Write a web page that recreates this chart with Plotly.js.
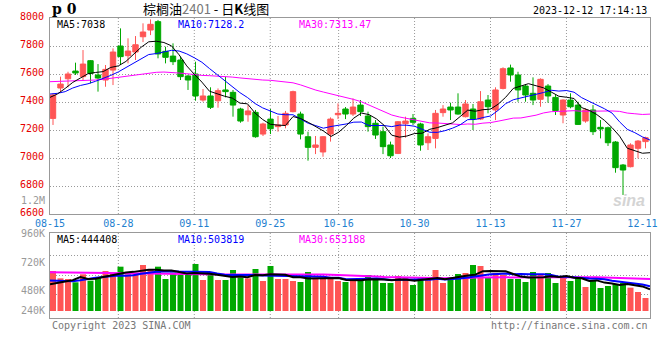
<!DOCTYPE html>
<html><head><meta charset="utf-8">
<script src="https://cdn.plot.ly/plotly-3.0.1.min.js"></script>
<style>html,body{margin:0;padding:0;background:#fff}#chart{width:660px;height:360px}</style>
</head><body><div id="chart"></div>
<script>
// ---------------- data ----------------
const DATES = ['08-15','08-16','08-17','08-18','08-21','08-22','08-23','08-24','08-25','08-28',
 '08-29','08-30','08-31','09-01','09-04','09-05','09-06','09-07','09-08','09-11',
 '09-12','09-13','09-14','09-15','09-18','09-19','09-20','09-21','09-22','09-25',
 '09-26','09-27','09-28','10-09','10-10','10-11','10-12','10-13','10-16','10-17',
 '10-18','10-19','10-20','10-23','10-24','10-25','10-26','10-27','10-30','10-31',
 '11-01','11-02','11-03','11-06','11-07','11-08','11-09','11-10','11-13','11-14',
 '11-15','11-16','11-17','11-20','11-21','11-22','11-23','11-24','11-27','11-28',
 '11-29','11-30','12-01','12-04','12-05','12-06','12-07','12-08','12-11','12-12'];
const OPEN = [7283,7500,7566,7621,7581,7695,7593,7557,7628,7800,
 7731,7757,7866,7914,7974,7762,7728,7700,7586,7600,
 7414,7443,7409,7486,7469,7350,7309,7326,7171,7278,
 7224,7236,7331,7314,7152,7076,7043,7171,7309,7350,
 7314,7378,7300,7248,7188,7093,7033,7245,7283,7243,
 7109,7140,7324,7364,7364,7295,7350,7278,7414,7343,
 7497,7643,7593,7514,7462,7419,7514,7433,7307,7414,
 7378,7264,7343,7219,7216,7114,6950,6938,7069,7117];
const HIGH = [7462,7581,7616,7681,7771,7700,7671,7664,7783,7926,
 7855,7871,7962,7990,7986,7795,7819,7724,7593,7688,
 7493,7505,7497,7581,7486,7359,7378,7343,7252,7350,
 7300,7336,7481,7331,7188,7157,7157,7290,7390,7364,
 7426,7414,7331,7271,7224,7117,7264,7295,7314,7252,
 7176,7343,7378,7395,7462,7414,7386,7478,7450,7505,
 7648,7667,7616,7528,7576,7569,7528,7450,7419,7462,
 7402,7355,7378,7271,7224,7121,6957,7105,7128,7152];
const LOW = [7236,7474,7505,7593,7552,7533,7474,7509,7521,7664,
 7676,7700,7828,7878,7712,7676,7664,7557,7486,7409,
 7402,7350,7359,7433,7295,7252,7259,7145,7157,7171,
 7188,7212,7326,7133,6981,7028,7009,7117,7278,7278,
 7300,7300,7188,7136,7028,7000,7028,7145,7236,7052,
 7057,7069,7295,7271,7309,7290,7200,7271,7319,7271,
 7490,7545,7402,7402,7378,7366,7395,7307,7248,7355,
 7236,7252,7164,7140,7086,6895,6736,6933,6997,7069];
const CLOSE = [7450,7528,7600,7607,7671,7605,7571,7633,7757,7724,
 7764,7809,7900,7955,7743,7719,7688,7581,7557,7443,
 7443,7362,7481,7474,7378,7264,7336,7152,7243,7209,
 7236,7319,7474,7171,7076,7093,7152,7278,7319,7314,
 7364,7331,7224,7164,7081,7016,7259,7264,7255,7093,
 7152,7319,7350,7343,7314,7386,7278,7402,7366,7486,
 7638,7593,7486,7450,7414,7562,7443,7338,7414,7366,
 7240,7343,7188,7207,7109,6931,6914,7093,7121,7145];
const MA5 = [7433,7458,7497,7540,7571,7602,7611,7617,7647,7658,
 7690,7737,7791,7830,7834,7825,7801,7737,7658,7598,
 7542,7477,7457,7441,7428,7392,7387,7321,7275,7241,
 7235,7232,7296,7282,7255,7227,7193,7154,7184,7231,
 7285,7321,7310,7279,7233,7163,7149,7157,7175,7177,
 7205,7217,7234,7251,7296,7342,7334,7345,7349,7384,
 7434,7497,7514,7531,7516,7501,7471,7441,7434,7425,
 7360,7340,7310,7269,7217,7156,7070,7051,7034,7038];
const MA10 = [7457,7462,7474,7500,7518,7530,7548,7568,7590,7615,
 7646,7674,7704,7739,7746,7758,7769,7764,7744,7716,
 7684,7639,7597,7549,7513,7467,7432,7389,7358,7334,
 7314,7309,7309,7278,7248,7231,7213,7225,7233,7243,
 7256,7257,7232,7232,7232,7224,7235,7234,7227,7205,
 7184,7183,7195,7213,7237,7274,7275,7289,7300,7340,
 7388,7416,7429,7440,7450,7468,7484,7478,7482,7470,
 7431,7406,7376,7352,7321,7258,7205,7181,7151,7128.2];
const MA30 = [7545,7547,7547,7550,7550,7555,7557,7562,7569,7574,
 7581,7588,7597,7607,7612,7614,7612,7607,7602,7595,
 7590,7588,7586,7583,7578,7572,7566,7560,7557,7555,
 7548,7541,7537,7522,7502,7485,7471,7459,7445,7431,
 7418,7402,7379,7353,7331,7307,7293,7283,7273,7261,
 7251,7250,7245,7241,7239,7243,7241,7249,7253,7263,
 7276,7285,7286,7295,7306,7322,7331,7333,7337,7338,
 7334,7335,7333,7335,7336,7333,7321,7316,7311,7313.47];
const VOLUME = [816000,666000,653000,585000,748000,619000,694000,816000,755000,904000,
 748000,768000,938000,857000,904000,653000,782000,748000,734000,959000,
 632000,734000,632000,632000,836000,680000,666000,857000,612000,918000,
 653000,653000,612000,592000,796000,653000,653000,653000,612000,592000,
 653000,632000,734000,632000,571000,571000,714000,694000,530000,673000,
 632000,836000,571000,673000,755000,775000,938000,918000,694000,775000,
 734000,653000,653000,592000,796000,734000,775000,571000,694000,612000,
 694000,490000,632000,469000,510000,551000,578000,476000,388000,265000];
const VMA5 = [545000,580000,600000,630000,694000,654000,660000,692000,726000,758000,
 783000,798000,823000,843000,843000,824000,827000,789000,764000,775000,
 771000,761000,738000,718000,693000,703000,689000,734000,730000,747000,
 741000,739000,690000,686000,661000,661000,661000,669000,673000,633000,
 633000,628000,645000,649000,644000,628000,644000,636000,616000,636000,
 649000,673000,648000,677000,693000,722000,742000,812000,816000,820000,
 812000,755000,702000,681000,686000,686000,710000,694000,714000,677000,
 669000,612000,624000,579000,559000,530000,548000,517000,501000,444408];
const VMA10 = [620000,615000,608000,608000,628000,655000,678000,692000,712000,726000,
 719000,729000,758000,785000,800000,804000,813000,806000,804000,809000,
 798000,794000,764000,741000,734000,737000,725000,736000,724000,720000,
 722000,714000,712000,708000,704000,701000,700000,680000,680000,647000,
 647000,645000,657000,661000,639000,630000,636000,641000,632000,640000,
 638000,659000,642000,647000,665000,685000,708000,730000,747000,757000,
 767000,749000,757000,749000,753000,749000,732000,698000,698000,681000,
 677000,661000,659000,647000,618000,600000,580000,571000,540000,503819];
const VMA30 = [790000,788000,785000,778000,775000,772000,770000,768000,766000,763000,
 760000,756000,753000,750000,747000,745000,744000,743000,742000,742000,
 742000,742000,742000,742000,743000,744000,745000,747000,749000,752000,
 746000,746000,744000,745000,746000,747000,746000,740000,736000,725000,
 722000,718000,711000,703000,692000,689000,687000,685000,679000,669000,
 669000,672000,670000,672000,669000,672000,681000,683000,686000,681000,
 684000,684000,685000,685000,685000,688000,692000,689000,692000,693000,
 694000,689000,686000,681000,679000,678000,673000,666000,661000,653188];
const TICK_LABELS = ['08-15','08-28','09-11','09-25','10-16','10-30','11-13','11-27','12-11'];
const GRID_LABELS = ['08-28','09-11','09-25','10-16','10-30','11-13','11-27'];
const PRICE_TICKS = [6600,6800,7000,7200,7400,7600,7800,8000];
const VOL_LABELS = ['1.2M','960K','720K','480K','240K'];
const PRICE_HEADER = ['MA5:7038','MA10:7128.2','MA30:7313.47'];
const VOL_HEADER = ['MA5:444408','MA10:503819','MA30:653188'];

// ---------------- drawing ----------------
const N = DATES.length;
const X = DATES.map((d, i) => i);
const lineX = i => i * N / (N - 1) - 0.4;   // sina places lines/labels on a slightly wider step
const XL = DATES.map((d, i) => lineX(i));
const RED = '#ff5555', GREEN = '#00a800';
const volColors = CLOSE.map((c, i) => c >= OPEN[i] ? RED : GREEN);

const traces = [
  {type:'candlestick', x:X, open:OPEN, high:HIGH, low:LOW, close:CLOSE, xaxis:'x', yaxis:'y',
   increasing:{line:{color:RED, width:1}, fillcolor:RED},
   decreasing:{line:{color:GREEN, width:1}, fillcolor:GREEN},
   whiskerwidth:0, hoverinfo:'skip'},
  {type:'scatter', mode:'lines', x:XL, y:MA30, line:{color:'#ff00ff', width:1}, xaxis:'x', yaxis:'y', hoverinfo:'skip'},
  {type:'scatter', mode:'lines', x:XL, y:MA10, line:{color:'#0000ff', width:1}, xaxis:'x', yaxis:'y', hoverinfo:'skip'},
  {type:'scatter', mode:'lines', x:XL, y:MA5, line:{color:'#000000', width:1}, xaxis:'x', yaxis:'y', hoverinfo:'skip'},
  {type:'bar', x:X, y:VOLUME, width:0.8, marker:{color:volColors, line:{width:0}}, xaxis:'x2', yaxis:'y2', hoverinfo:'skip'},
  {type:'scatter', mode:'lines', x:XL, y:VMA30, line:{color:'#ff00ff', width:2}, xaxis:'x2', yaxis:'y2', hoverinfo:'skip'},
  {type:'scatter', mode:'lines', x:XL, y:VMA10, line:{color:'#0000ff', width:2}, xaxis:'x2', yaxis:'y2', hoverinfo:'skip'},
  {type:'scatter', mode:'lines', x:XL, y:VMA5, line:{color:'#000000', width:2}, xaxis:'x2', yaxis:'y2', hoverinfo:'skip'}
];

// plot area in pixels: x 50..650, y 18..318
const PX = px => (px - 50) / 600;
const PY = py => (318 - py) / 300;
const MONO = 'DejaVu Sans Mono';
const GRIDDASH = '1px,2px';

const shapes = [];
GRID_LABELS.forEach(l => {
  const xv = lineX(DATES.indexOf(l));
  shapes.push({type:'line', layer:'below', xref:'x', yref:'y domain', x0:xv, x1:xv, y0:0, y1:1,
               line:{color:'#999', width:1, dash:GRIDDASH}});
  shapes.push({type:'line', layer:'below', xref:'x2', yref:'y2 domain', x0:xv, x1:xv, y0:0, y1:1,
               line:{color:'#999', width:1, dash:GRIDDASH}});
});

const ann = [];
const txt = (text, px, py, color, anchor, size, family, extra) => ann.push(Object.assign({
  text, x:PX(px), y:PY(py), xref:'paper', yref:'paper', xanchor:anchor, yanchor:'middle',
  showarrow:false, font:{family:family || MONO, size:size || 10, color}}, extra || {}));

const headerX = [55, 176, 297];
const headerC = ['#000000', '#0000ff', '#ff00ff'];
PRICE_HEADER.forEach((t, i) => txt(t, headerX[i], 24, headerC[i], 'left', 10));
VOL_HEADER.forEach((t, i) => txt(t, headerX[i], 239, headerC[i], 'left', 10));
const volLabelY = [200, 233, 262, 290, 310];
VOL_LABELS.forEach((t, i) => txt(t, 47, volLabelY[i], '#999999', 'right', 10));
txt('<b>p 0</b>', 50, 9, '#000', 'left', 14, 'DejaVu Serif');
txt('棕榈油<span style="color:#777">2401</span> - 日<b>K</b>线图', 141, 9, '#000', 'left', 13, 'Noto Sans CJK SC');
txt('2023-12-12 17:14:13', 649, 11, '#000', 'right', 10);
txt('Copyright 2023 SINA.COM', 50, 325, '#777', 'left', 10);
txt('http://finance.sina.com.cn', 650, 325, '#777', 'right', 10);
txt('<b><i>sina</i></b>', 647, 200, '#d4d4d4', 'right', 16, 'Liberation Sans');

const layout = {
  width:660, height:360,
  margin:{l:50, r:10, t:18, b:42, pad:0},
  paper_bgcolor:'#ffffff', plot_bgcolor:'#ffffff',
  showlegend:false,
  font:{family:MONO, size:10, color:'#000'},
  boxgap:0.28, boxgroupgap:0,
  xaxis:{anchor:'y', domain:[0,1], range:[-0.4, N - 0.4], rangeslider:{visible:false},
         tickmode:'array', tickvals:TICK_LABELS.map(l => lineX(DATES.indexOf(l))), ticktext:TICK_LABELS,
         tickfont:{family:MONO, size:10, color:'#1e7fd0'}, ticks:'', ticklabelstandoff:0,
         showgrid:false, zeroline:false,
         showline:true, mirror:true, linecolor:'#999', linewidth:1},
  yaxis:{anchor:'x', domain:[PY(214), 1], range:[6600, 8000], tickmode:'array', tickvals:PRICE_TICKS,
         ticktext:PRICE_TICKS.map(String), tickfont:{family:MONO, size:10, color:'#e60000'}, ticks:'',
         showgrid:true, gridcolor:'#999', griddash:GRIDDASH, gridwidth:1, zeroline:false,
         showline:true, mirror:true, linecolor:'#999', linewidth:1, ticklabelstandoff:3, ticklabelshift:-2},
  xaxis2:{anchor:'y2', domain:[0,1], range:[-0.4, N - 0.4], showticklabels:false, ticks:'', showgrid:false,
          zeroline:false, showline:true, mirror:true, linecolor:'#999', linewidth:1},
  yaxis2:{anchor:'x2', domain:[0, PY(233)], range:[-143000, 1591000], tickmode:'array',
          tickvals:[341000, 734000, 1128000], showticklabels:false, ticks:'',
          showgrid:true, gridcolor:'#999', griddash:GRIDDASH, gridwidth:1, zeroline:false,
          showline:true, mirror:true, linecolor:'#999', linewidth:1},
  shapes, annotations:ann
};

Plotly.newPlot('chart', traces, layout, {staticPlot:true, displayModeBar:false});
</script></body></html>
